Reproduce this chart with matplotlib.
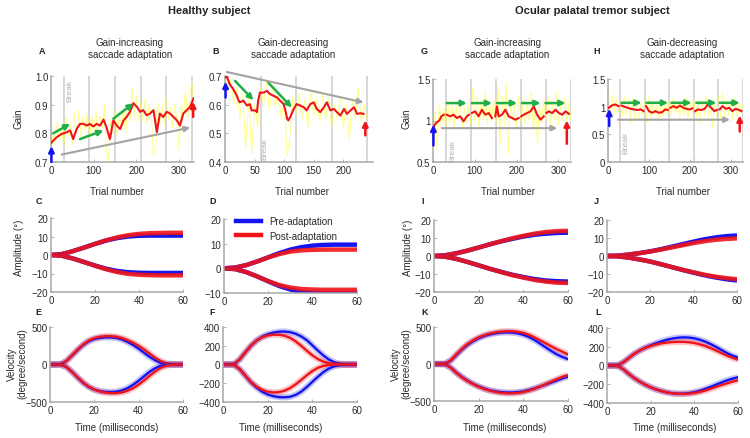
import numpy as np
import matplotlib
matplotlib.use('Agg')
import matplotlib.pyplot as plt
from matplotlib.lines import Line2D

plt.rcParams['font.family'] = ['Liberation Sans', 'DejaVu Sans']

nan = np.nan

# ---------------- gain traces (trial by trial) ----------------
A_yel_trial = list(range(0, 336, 5))
A_yel_gain = [0.74, 0.80, 0.76, 0.84, 0.78, 0.82, 0.75, 0.86, 0.79, 0.83,
              0.76, 0.87, 0.80, 0.88, 0.79, 0.86, 0.81, 0.87, 0.78, 0.86,
              0.80, 0.88, 0.79, 0.86, 0.82, 0.90, 0.74, 0.70, 0.85, 0.80,
              0.88, 0.79, 0.86, 0.82, 0.89, 0.80, 0.90, 0.84, 0.96, 0.86,
              0.93, 0.84, 0.91, 0.85, 0.92, 0.83, 0.90, 0.86, 0.72, 0.76,
              0.91, 0.84, 0.90, 0.83, 0.92, 0.85, 0.89, 0.82, 0.90, 0.84,
              0.74, 0.90, 0.86, 0.95, 0.85, 0.93, 0.98, 0.88]
A_red_trial = [1, 13, 25, 37, 45, 52, 60, 68, 76, 84, 91, 99, 107, 115, 123, 130,
               138, 146, 154, 162, 170, 177, 185, 193, 201, 209, 216, 224, 232,
               240, 248, 255, 263, 271, 279, 287, 295, 302, 310, 318, 326, 334]
A_red_gain = [0.768, 0.786, 0.798, 0.804, 0.810, 0.780, 0.815, 0.833, 0.833, 0.827,
              0.833, 0.824, 0.833, 0.827, 0.848, 0.821, 0.780, 0.845, 0.827, 0.815,
              0.845, 0.857, 0.875, 0.905, 0.893, 0.875, 0.881, 0.863, 0.869, 0.881,
              0.804, 0.869, 0.857, 0.875, 0.869, 0.857, 0.845, 0.827, 0.869, 0.881,
              0.893, 0.922]

B_yel_trial = list(range(0, 241, 5))
B_yel_gain = [0.70, 0.64, 0.69, 0.60, 0.66, 0.55, 0.64, 0.45, 0.62, 0.43,
              0.60, 0.52, 0.66, 0.60, 0.68, 0.58, 0.66, 0.59, 0.64, 0.55,
              0.62, 0.42, 0.50, 0.63, 0.57, 0.64, 0.55, 0.62, 0.52, 0.65,
              0.56, 0.62, 0.54, 0.64, 0.55, 0.62, 0.52, 0.60, 0.55, 0.63,
              0.52, 0.60, 0.48, 0.62, 0.55, 0.66, 0.54, 0.60, 0.55]
B_red_trial = [0, 3, 8, 14, 20, 23, 25, 31, 37, 42, 45, 51, 54, 56, 59, 65, 71, 76,
               82, 88, 93, 99, 102, 105, 107, 110, 116, 121, 127, 133, 138, 144,
               150, 155, 161, 167, 172, 178, 184, 189, 195, 201, 206, 212, 218,
               223, 229, 234]
B_red_gain = [0.694, 0.70, 0.671, 0.654, 0.631, 0.614, 0.608, 0.614, 0.597, 0.602,
              0.580, 0.580, 0.574, 0.614, 0.642, 0.642, 0.648, 0.637, 0.631, 0.625,
              0.614, 0.602, 0.580, 0.551, 0.545, 0.556, 0.585, 0.602, 0.597, 0.591,
              0.580, 0.602, 0.608, 0.585, 0.574, 0.591, 0.608, 0.580, 0.585, 0.574,
              0.562, 0.585, 0.568, 0.580, 0.591, 0.568, 0.570, 0.568]

G_yel_trial = list(range(0, 331, 5))
G_yel_gain = [0.80, 1.10, 0.62, 1.20, 0.95, 1.15, 0.90, 1.25, 0.95, 1.20,
              0.92, 1.18, 1.00, 1.22, 0.90, 1.15, 0.98, 1.20, 0.95, 1.40,
              1.00, 1.30, 0.92, 1.25, 1.00, 1.35, 0.95, 1.20, 0.98, 1.25,
              0.95, 1.42, 0.72, 1.30, 0.95, 1.45, 0.60, 1.25, 1.00, 1.20,
              0.92, 1.30, 0.98, 1.25, 0.95, 1.20, 1.00, 1.35, 0.90, 1.15,
              0.70, 1.20, 0.95, 1.25, 1.00, 1.30, 0.95, 1.22, 1.02, 1.35,
              0.95, 1.20, 1.00, 1.28, 0.96, 1.22, 1.00]
G_red_trial = [2, 6, 10, 15, 20, 26, nan, 33, 41, 49, 57, 65, 73, 81, 86, nan,
               93, 101, 109, 117, 125, 133, 141, nan, 149, 153, 157, 165, 173, 181,
               189, 197, 205, nan, 211, 217, 225, 233, 241, 249, 257, 265, nan,
               271, 277, 285, 293, 301, 309, 317, 325]
G_red_gain = [0.93, 0.96, 0.98, 1.00, 1.05, 1.07, nan, 1.07, 1.05, 1.07, 1.03, 1.05,
              0.99, 1.05, 1.07, nan, 1.09, 1.11, 1.05, 1.13, 1.07, 1.09, 1.03, nan,
              1.05, 1.17, 1.05, 1.07, 1.13, 1.05, 1.03, 1.01, 1.03, nan, 1.05, 1.07,
              1.09, 1.11, 1.17, 1.07, 1.01, 1.05, nan, 1.09, 1.11, 1.09, 1.13, 1.09,
              1.07, 1.11, 1.08]

H_yel_trial = list(range(0, 331, 5))
H_yel_gain = [1.30, 0.80, 1.20, 0.85, 1.15, 0.90, 1.10, 0.82, 1.20, 0.85,
              1.12, 0.70, 1.15, 0.80, 1.10, 0.75, 1.05, 0.85, 1.10, 0.70,
              1.20, 0.78, 1.10, 0.85, 1.05, 0.72, 1.12, 0.80, 1.08, 0.86,
              1.15, 0.82, 1.18, 0.88, 1.10, 0.80, 1.12, 0.85, 1.20, 0.75,
              1.10, 0.88, 1.15, 0.80, 1.08, 0.70, 1.12, 0.85, 1.20, 0.80,
              1.10, 0.62, 1.05, 0.85, 1.18, 0.78, 1.25, 0.80, 1.12, 0.85,
              1.10, 0.75, 1.15, 0.82, 1.08, 0.88, 1.05]
H_red_trial = [2, 9, 17, 26, nan, 33, 40, 48, 56, 64, 72, 80, 87, nan, 93, 100, 108,
               116, 124, 132, 140, 146, nan, 153, 160, 168, 176, 184, 192, 200, 206,
               nan, 213, 220, 228, 236, 244, 252, 260, 266, nan, 273, 280, 288, 296,
               304, 312, 320, 326]
H_red_gain = [0.98, 1.02, 1.04, 1.01, nan, 1.02, 1.00, 0.98, 0.96, 0.95, 0.94, 0.95,
              0.92, nan, 1.01, 0.92, 0.89, 0.92, 0.89, 0.90, 0.95, 0.94, nan, 0.98,
              1.01, 0.98, 1.02, 0.98, 0.96, 0.95, 0.97, nan, 0.92, 0.95, 0.94, 0.96,
              1.04, 0.98, 0.92, 0.94, nan, 0.95, 1.01, 0.96, 0.98, 0.92, 0.96, 0.94,
              0.92]

# block boundaries (trial numbers)
blocks_330 = [30, 90, 150, 210, 270, 330]
blocks_240 = [60, 120, 180, 240]

# arrows: (x_from, y_from, x_to, y_to) in data units
A_green = [(5, 0.80, 45, 0.833), (68, 0.78, 123, 0.81), (146, 0.851, 193, 0.905)]
A_gray = (25, 0.726, 326, 0.82)
A_blue = (1, 0.70, 1, 0.755)
A_redarr = (333, 0.857, 333, 0.91)
B_green = [(17, 0.683, 48, 0.616), (73, 0.677, 113, 0.59)]
B_gray = (3, 0.714, 234, 0.608)
B_blue = (1, 0.625, 1, 0.68)
B_redarr = (237, 0.493, 237, 0.545)
G_green = [(33, 1.21, 81, 1.21), (93, 1.21, 141, 1.21), (153, 1.21, 201, 1.21),
           (213, 1.21, 257, 1.21), (269, 1.21, 317, 1.21)]
G_gray = (21, 0.908, 297, 0.908)
G_blue = (1, 0.70, 1, 0.95)
G_redarr = (320, 0.72, 320, 1.0)
H_green = [(33, 1.07, 82, 1.07), (94, 1.07, 147, 1.07), (155, 1.07, 204, 1.07),
           (216, 1.07, 265, 1.07), (273, 1.07, 322, 1.07)]
H_gray = (25, 0.764, 298, 0.764)
H_blue = (3, 0.65, 3, 0.96)
H_redarr = (322, 0.55, 322, 0.84)

# ---------------- amplitude (deg) ----------------
t_amp = [0, 5, 10, 15, 20, 25, 30, 35, 40, 45, 50, 55, 60]
C_pos_pre = [0, 0.5, 2.1, 4.0, 6.0, 7.8, 9.1, 10.0, 10.4, 10.5, 10.5, 10.5, 10.5]
C_pos_post = [0, 0.5, 2.1, 4.0, 6.0, 7.9, 9.5, 10.7, 11.4, 11.8, 11.9, 12.0, 12.0]
C_neg_pre = [0, -0.4, -1.9, -3.8, -5.7, -7.4, -8.6, -9.3, -9.6, -9.7, -9.7, -9.7, -9.7]
C_neg_post = [0, -0.4, -1.9, -3.8, -5.8, -7.7, -9.2, -10.2, -10.7, -10.9, -11.0, -11.0, -11.0]
D_pos_pre = [0, 0.3, 1.3, 2.8, 4.5, 6.2, 7.6, 8.6, 9.2, 9.5, 9.6, 9.6, 9.6]
D_pos_post = [0, 0.3, 1.3, 2.8, 4.4, 5.8, 6.8, 7.3, 7.5, 7.6, 7.6, 7.6, 7.6]
D_neg_pre = [0, -0.3, -1.5, -3.3, -5.3, -7.2, -8.6, -9.5, -9.9, -10.0, -10.0, -10.0, -10.0]
D_neg_post = [0, -0.3, -1.5, -3.3, -5.2, -6.8, -7.8, -8.4, -8.6, -8.7, -8.7, -8.7, -8.7]
I_pos_pre = [0, 0.4, 1.5, 3.0, 4.7, 6.5, 8.1, 9.5, 10.8, 11.8, 12.4, 12.8, 13.0]
I_pos_post = [0, 0.4, 1.5, 3.0, 4.7, 6.5, 8.2, 9.8, 11.2, 12.4, 13.3, 13.8, 14.0]
I_neg_pre = [0, -0.4, -1.6, -3.3, -5.2, -7.1, -8.8, -10.4, -11.7, -12.8, -13.6, -14.0, -14.2]
I_neg_post = [0, -0.4, -1.6, -3.3, -5.2, -7.1, -8.9, -10.6, -12.0, -13.3, -14.2, -14.8, -15.0]
J_pos_pre = [0, 0.2, 0.8, 1.6, 2.6, 3.8, 5.2, 6.6, 8.0, 9.3, 10.3, 11.0, 11.4]
J_pos_post = [0, 0.2, 0.8, 1.6, 2.5, 3.6, 4.8, 6.0, 7.2, 8.2, 9.0, 9.5, 9.8]
J_neg_pre = [0, -0.2, -0.9, -1.9, -3.1, -4.6, -6.2, -7.8, -9.3, -10.7, -11.9, -12.9, -13.6]
J_neg_post = [0, -0.2, -0.9, -1.9, -3.1, -4.6, -6.2, -7.7, -9.1, -10.4, -11.5, -12.3, -12.9]

# ---------------- velocity (deg/s) ----------------
t_vel = [0, 2.5, 5, 7.5, 10, 12.5, 15, 17.5, 20, 22.5, 25, 27.5, 30, 32.5, 35,
         37.5, 40, 42.5, 45, 47.5, 50, 52.5, 55, 57.5, 60]
E_pos_pre = [0, 0, 5, 50, 120, 195, 260, 310, 340, 355, 362, 362, 355, 335, 300,
             260, 210, 155, 100, 55, 22, 6, 1, 0, 0]
E_pos_post = [0, 0, 5, 50, 125, 200, 268, 320, 352, 370, 378, 378, 370, 352, 325,
              290, 250, 200, 145, 90, 45, 15, 4, 0, 0]
E_neg_pre = [0, 0, -3, -35, -100, -175, -245, -300, -335, -355, -365, -368, -362,
             -345, -315, -270, -215, -155, -95, -48, -18, -5, 0, 0, 0]
E_neg_post = [0, 0, -3, -35, -100, -172, -240, -295, -335, -360, -375, -382, -382,
              -372, -350, -315, -268, -210, -150, -92, -45, -15, -4, 0, 0]
F_pos_pre = [0, 0, 5, 55, 130, 200, 255, 295, 322, 340, 350, 352, 345, 328, 300,
             260, 205, 148, 95, 52, 22, 8, 2, 0, 0]
F_pos_post = [0, 0, 5, 55, 130, 200, 255, 290, 310, 318, 318, 308, 285, 248, 200,
              148, 98, 58, 30, 13, 5, 2, 0, 0, 0]
F_neg_pre = [0, 0, -5, -50, -120, -190, -245, -290, -320, -338, -348, -350, -345,
             -325, -290, -240, -185, -130, -80, -42, -18, -6, -2, 0, 0]
F_neg_post = [0, 0, -5, -50, -120, -185, -235, -270, -290, -298, -295, -280, -252,
              -212, -165, -115, -70, -35, -15, -5, -2, 0, 0, 0, 0]
K_pos_pre = [0, 0, 5, 45, 120, 195, 258, 308, 348, 378, 400, 415, 425, 428, 425,
             415, 395, 365, 325, 275, 225, 175, 130, 95, 65]
K_pos_post = [0, 0, 5, 50, 130, 205, 270, 320, 360, 390, 412, 428, 438, 443, 442,
              435, 420, 395, 360, 320, 280, 240, 200, 165, 130]
K_neg_pre = [0, 0, -5, -48, -115, -175, -225, -268, -303, -332, -355, -370, -380,
             -385, -385, -380, -370, -352, -330, -305, -278, -250, -222, -195, -170]
K_neg_post = [0, 0, -5, -50, -120, -180, -230, -272, -308, -338, -360, -378, -390,
              -396, -397, -392, -380, -360, -335, -305, -272, -238, -205, -175, -150]
L_pos_pre = [0, 0, 5, 35, 80, 125, 160, 190, 215, 238, 258, 275, 288, 296, 300,
             298, 290, 275, 255, 228, 198, 165, 132, 105, 85]
L_pos_post = [0, 0, 5, 35, 80, 125, 160, 188, 208, 225, 237, 245, 250, 252, 252,
              248, 240, 226, 208, 185, 160, 132, 105, 82, 62]
L_neg_pre = [0, 0, -5, -40, -90, -135, -172, -205, -232, -255, -273, -287, -296,
             -300, -300, -295, -285, -270, -250, -228, -204, -180, -158, -140, -125]
L_neg_post = [0, 0, -5, -40, -90, -135, -172, -205, -232, -255, -273, -287, -297,
              -302, -303, -300, -293, -282, -267, -248, -228, -208, -190, -172, -158]

BLUE = '#1414f0'
RED = '#f01418'
YEL = '#ffff40'
GREEN = '#1fae48'
GRAY = '#a3a3a3'
SPINE = '#a8a8a8'
TXT = '#2b2b2b'

W, H = 750, 439


def box(l, r, t, b):
    return [l / W, 1 - b / H, (r - l) / W, (b - t) / H]


def ftext(x, y, s, **kw):
    kw.setdefault('fontsize', 7)
    kw.setdefault('color', TXT)
    fig.text(x / W, 1 - y / H, s, ha=kw.pop('ha', 'center'), va=kw.pop('va', 'center'), **kw)


def style(ax):
    for s in ['top', 'right']:
        ax.spines[s].set_visible(False)
    for s in ['left', 'bottom']:
        ax.spines[s].set_color(SPINE)
        ax.spines[s].set_linewidth(1.1)
    ax.tick_params(length=2, width=0.6, color=SPINE, labelsize=7,
                   labelcolor=TXT, pad=2, direction='in')
    ax.patch.set_alpha(0)


def arrow(ax, a, color, lw=1.6, ms=8):
    ax.annotate('', xy=(a[2], a[3]), xytext=(a[0], a[1]), annotation_clip=False,
                arrowprops=dict(arrowstyle='-|>', color=color, lw=lw,
                                mutation_scale=ms, shrinkA=0, shrinkB=0))


def gain_panel(rect, yt, yg, rt, rg, xlim, ylim, yticks, ylabs, blocks,
               greens, gray, blue, red, brk):
    ax = fig.add_axes(rect)
    style(ax)
    for b in blocks:
        ax.axvline(b, color='#d4d4d4', lw=1.3, zorder=0)
    ax.plot(yt, yg, color=YEL, lw=0.8, alpha=0.55, zorder=1)
    ax.plot(rt, rg, color=RED, lw=1.5, zorder=3)
    for g in greens:
        arrow(ax, g, GREEN, lw=1.8)
    arrow(ax, gray, GRAY, lw=1.5)
    arrow(ax, blue, BLUE, lw=1.8)
    arrow(ax, red, RED, lw=1.8)
    ax.text(brk[0], brk[1], 'Break', rotation=90, color='#b0b0b0', fontsize=6,
            ha='center', va='center')
    ax.set_xlim(*xlim)
    ax.set_ylim(*ylim)
    ax.set_yticks(yticks)
    ax.set_yticklabels(ylabs)
    return ax


def amp_panel(rect, pos_pre, pos_post, neg_pre, neg_post, ylim, yticks):
    ax = fig.add_axes(rect)
    style(ax)
    for pre, post in [(pos_pre, pos_post), (neg_pre, neg_post)]:
        ax.plot(t_amp, pre, color=BLUE, lw=3.2, solid_capstyle='butt')
        ax.plot(t_amp, post, color=RED, lw=3.2, alpha=0.9, solid_capstyle='butt')
    ax.set_xlim(0, 60)
    ax.set_ylim(*ylim)
    ax.set_xticks([0, 20, 40, 60])
    ax.set_yticks(yticks)
    return ax


def vel_panel(rect, pos_pre, pos_post, neg_pre, neg_post, lim, yticks):
    ax = fig.add_axes(rect)
    style(ax)
    for pre, post in [(pos_pre, pos_post), (neg_pre, neg_post)]:
        ax.plot(t_vel, pre, color=BLUE, lw=4.5, alpha=0.25, solid_capstyle='butt')
        ax.plot(t_vel, post, color=RED, lw=4.5, alpha=0.25, solid_capstyle='butt')
        ax.plot(t_vel, pre, color=BLUE, lw=1.7)
        ax.plot(t_vel, post, color=RED, lw=1.7)
    ax.set_xlim(0, 60)
    ax.set_ylim(-lim, lim)
    ax.set_xticks([0, 20, 40, 60])
    ax.set_yticks(yticks)
    return ax


fig = plt.figure(figsize=(7.5, 4.39), dpi=100)

# top row: gain
gain_panel(box(51, 194, 77, 163), A_yel_trial, A_yel_gain, A_red_trial, A_red_gain,
           (0, 335), (0.7, 1.0), [0.7, 0.8, 0.9, 1.0], ['0.7', '0.8', '0.9', '1.0'],
           blocks_330, A_green, A_gray, A_blue, A_redarr, (44, 0.95))
axB = gain_panel(box(225, 373, 77, 163), B_yel_trial, B_yel_gain, B_red_trial, B_red_gain,
                 (0, 250), (0.4, 0.7), [0.4, 0.5, 0.6, 0.7], ['0.4', '0.5', '0.6', '0.7'],
                 blocks_240, B_green, B_gray, B_blue, B_redarr, (67, 0.45))
axB.set_xticks([0, 50, 100, 150, 200])
gain_panel(box(433, 571, 80, 163), G_yel_trial, G_yel_gain, G_red_trial, G_red_gain,
           (0, 330), (0.5, 1.5), [0.5, 1, 1.5], ['0.5', '1', '1.5'],
           blocks_330, G_green, G_gray, G_blue, G_redarr, (47, 0.64))
gain_panel(box(608, 743, 80, 163), H_yel_trial, H_yel_gain, H_red_trial, H_red_gain,
           (0, 330), (0, 1.5), [0, 0.5, 1, 1.5], ['0', '0.5', '1', '1.5'],
           blocks_330, H_green, H_gray, H_blue, H_redarr, (44, 0.37))

# middle row: amplitude
amp_panel(box(51, 183, 219, 293), C_pos_pre, C_pos_post, C_neg_pre, C_neg_post,
          (-20, 20), [-20, -10, 0, 10, 20])
axD = amp_panel(box(224, 357, 220, 294), D_pos_pre, D_pos_post, D_neg_pre, D_neg_post,
                (-10, 20), [-10, 0, 10, 20])
amp_panel(box(434, 568, 221, 293), I_pos_pre, I_pos_post, I_neg_pre, I_neg_post,
          (-20, 20), [-20, -10, 0, 10, 20])
amp_panel(box(607, 737, 221, 293), J_pos_pre, J_pos_post, J_neg_pre, J_neg_post,
          (-20, 20), [-20, -10, 0, 10, 20])
handles = [Line2D([], [], color=BLUE, lw=3.2), Line2D([], [], color=RED, lw=3.2)]
axD.legend(handles, ['Pre-adaptation', 'Post-adaptation'], loc='upper left',
           bbox_to_anchor=(0.06, 1.09), frameon=False, fontsize=7, handlelength=2.6,
           handletextpad=0.8, labelspacing=0.45, borderaxespad=0, labelcolor=TXT)

# bottom row: velocity
vel_panel(box(50, 183, 328, 403), E_pos_pre, E_pos_post, E_neg_pre, E_neg_post,
          500, [-500, 0, 500])
vel_panel(box(223, 357, 328, 403), F_pos_pre, F_pos_post, F_neg_pre, F_neg_post,
          400, [-400, -200, 0, 200, 400])
vel_panel(box(434, 568, 328, 402), K_pos_pre, K_pos_post, K_neg_pre, K_neg_post,
          500, [-500, 0, 500])
vel_panel(box(607, 738, 329, 404), L_pos_pre, L_pos_post, L_neg_pre, L_neg_post,
          400, [-400, -200, 0, 200, 400])

# headings and labels
ftext(209, 11, 'Healthy subject', fontsize=8, fontweight='bold', color='#222222')
ftext(592, 11, 'Ocular palatal tremor subject', fontsize=8, fontweight='bold', color='#222222')
for x in [130, 507]:
    ftext(x, 49, 'Gain-increasing\nsaccade adaptation', linespacing=1.15)
for x in [293, 682]:
    ftext(x, 49, 'Gain-decreasing\nsaccade adaptation', linespacing=1.15)

letters = [('A', 42, 52), ('B', 216, 52), ('G', 424, 52), ('H', 597, 52),
           ('C', 39, 202), ('D', 213, 202), ('I', 423, 202), ('J', 596, 202),
           ('E', 38, 313), ('F', 212, 313), ('K', 425, 313), ('L', 598, 313)]
for s, x, y in letters:
    ftext(x, y, s, fontsize=6.5, fontweight='bold', color='#222222')

for x in [117, 302, 508, 683]:
    ftext(x, 192, 'Trial number')
for x in [117, 281, 505, 675]:
    ftext(x, 428, 'Time (milliseconds)')
for x in [19, 407]:
    ftext(x, 119, 'Gain', rotation=90)
for x in [19, 408]:
    ftext(x, 248, 'Amplitude (°)', rotation=90)
for x in [17, 401]:
    ftext(x, 364, 'Velocity\n(degree/second)', rotation=90, linespacing=1.1)

fig.savefig('out.png', dpi=100)
